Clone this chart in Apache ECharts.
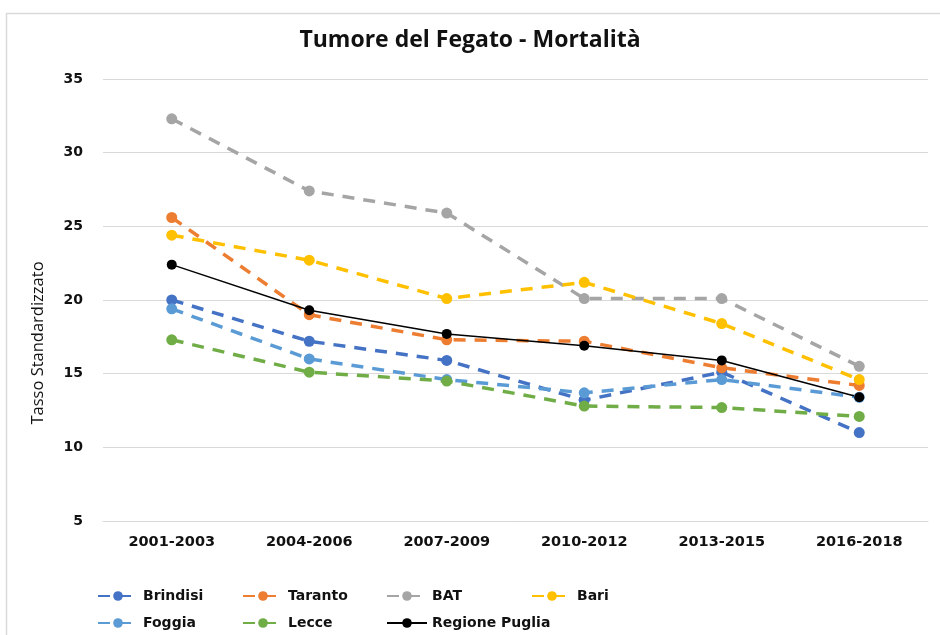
<!DOCTYPE html>
<html>
<head>
<meta charset="utf-8">
<script src="https://cdn.jsdelivr.net/npm/echarts@6/dist/echarts.min.js"></script>
<style>
  html, body { margin: 0; padding: 0; background: #fff; }
  #chart { width: 940px; height: 635px; }
</style>
</head>
<body>
<div id="chart"></div>
<script>
// dati
var periodi = ['2001-2003', '2004-2006', '2007-2009', '2010-2012', '2013-2015', '2016-2018']
var brindisi = [20.0, 17.2, 15.9, 13.2, 15.1, 11.0]
var taranto = [25.6, 19.0, 17.3, 17.2, 15.4, 14.2]
var bat = [32.3, 27.4, 25.9, 20.1, 20.1, 15.5]
var bari = [24.4, 22.7, 20.1, 21.2, 18.4, 14.6]
var foggia = [19.4, 16.0, 14.6, 13.7, 14.6, 13.4]
var lecce = [17.3, 15.1, 14.5, 12.8, 12.7, 12.1]
var puglia = [22.4, 19.3, 17.7, 16.9, 15.9, 13.4]
var yTicks = [5, 10, 15, 20, 25, 30, 35]

var labelFont = 'DejaVu Sans'

function serie (name, data, color, dashed) {
  return {
    name: name,
    type: 'line',
    data: data,
    symbol: 'circle',
    symbolSize: dashed ? 11 : 10,
    itemStyle: { color: color },
    lineStyle: {
      color: color,
      width: dashed ? 3.5 : 1.5,
      type: dashed ? [12, 9] : 'solid'
    },
    emphasis: { disabled: true },
    animation: false
  }
}

// una legenda per voce, per allineare le colonne come nell'originale
function legenda (name, left, top) {
  return {
    data: [name],
    left: left,
    top: top,
    itemWidth: 40,
    itemHeight: 12,
    itemGap: 0,
    textStyle: { fontFamily: labelFont, fontWeight: 'bold', fontSize: 14, color: '#111' }
  }
}

var myChart = echarts.init(document.getElementById('chart'))
myChart.setOption({
  backgroundColor: '#fff',
  title: {
    text: 'Tumore del Fegato - Mortalità',
    left: 'center',
    top: 24,
    textStyle: { fontFamily: 'Open Sans', fontWeight: 'bold', fontSize: 23, color: '#111' }
  },
  graphic: [{
    type: 'rect',
    shape: { x: 6.5, y: 13.5, width: 960, height: 660 },
    style: { fill: 'none', stroke: '#d9d9d9', lineWidth: 1.5 },
    silent: true
  }, {
    // titolo dell'asse y
    type: 'text',
    x: 38,
    y: 343,
    rotation: Math.PI / 2,
    style: {
      text: 'Tasso Standardizzato',
      fontFamily: 'Open Sans',
      fontSize: 16.5,
      fill: '#111',
      align: 'center',
      verticalAlign: 'middle'
    },
    silent: true
  }],
  legend: [
    legenda('Brindisi', 92, 584),
    legenda('Taranto', 237, 584),
    legenda('BAT', 381, 584),
    legenda('Bari', 526, 584),
    legenda('Foggia', 92, 611),
    legenda('Lecce', 237, 611),
    legenda('Regione Puglia', 381, 611)
  ],
  grid: {
    left: 103,
    right: 12,
    top: 79,
    bottom: 114
  },
  xAxis: {
    type: 'category',
    data: periodi,
    boundaryGap: true,
    axisLine: { show: true, lineStyle: { color: '#d9d9d9' } },
    axisTick: { show: false },
    axisLabel: { fontFamily: labelFont, fontWeight: 'bold', fontSize: 14.5, color: '#111', margin: 14 }
  },
  yAxis: {
    type: 'value',
    min: yTicks[0],
    max: yTicks[yTicks.length - 1],
    interval: 5,
    axisLine: { show: false },
    axisTick: { show: false },
    axisLabel: { fontFamily: labelFont, fontWeight: 'bold', fontSize: 14, color: '#111', margin: 20 },
    splitLine: { lineStyle: { color: '#d9d9d9', width: 1.2 } }
  },
  series: [
    serie('Brindisi', brindisi, '#4472c4', true),
    serie('Taranto', taranto, '#ed7d31', true),
    serie('BAT', bat, '#a5a5a5', true),
    serie('Bari', bari, '#ffc000', true),
    serie('Foggia', foggia, '#5b9bd5', true),
    serie('Lecce', lecce, '#70ad47', true),
    serie('Regione Puglia', puglia, '#000000', false)
  ]
})
</script>
</body>
</html>
